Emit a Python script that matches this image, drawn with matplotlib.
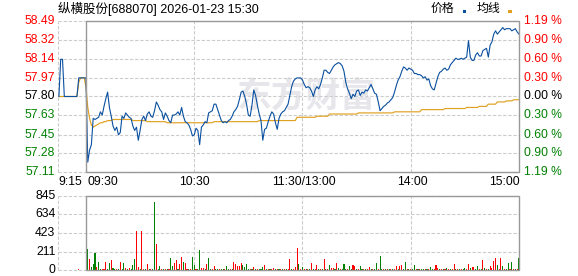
import numpy as np
import matplotlib
matplotlib.use("Agg")
import matplotlib.pyplot as plt
from matplotlib.patches import Rectangle

plt.rcParams['font.family'] = ['Liberation Sans', 'Noto Sans CJK SC', 'DejaVu Sans']

# 标题 / 昨收
title = "纵横股份[688070] 2026-01-23 15:30"
prev_close = 57.80

# 集合竞价 9:15-9:29
pre_price = [57.80, 58.14, 58.14, 57.80, 57.80, 57.80, 57.80, 57.80, 57.80, 57.80,
             57.80, 57.97, 57.97, 57.97, 57.97]
pre_avg = [57.80, 57.80, 57.80, 57.80, 57.80, 57.80, 57.80, 57.80, 57.80, 57.80,
           57.80, 57.93, 57.97, 57.97, 57.97]
pre_vol = [0, 0, 0, 0, 0, 0, 0, 0, 0, 0, 0, 12, 0, 0, 0]
pre_dir = "rrrrrrrrrrrrrrr"

# 分时价格 09:30-15:00 (每分钟)
price = [
    57.97, 57.20, 57.31, 57.36, 57.60, 57.59, 57.60, 57.61, 57.66, 57.63,
    57.71, 57.78, 57.84, 57.70, 57.62, 57.53, 57.49, 57.52, 57.45, 57.47,
    57.62, 57.60, 57.65, 57.63, 57.61, 57.60, 57.53, 57.49, 57.52, 57.40,
    57.49, 57.59, 57.62, 57.58, 57.64, 57.66, 57.62, 57.61, 57.67, 57.75,
    57.72, 57.68, 57.66, 57.59, 57.65, 57.62, 57.58, 57.56, 57.63, 57.63,
    57.64, 57.66, 57.63, 57.70, 57.62, 57.57, 57.56, 57.54, 57.50, 57.44,
    57.45, 57.51, 57.49, 57.36, 57.52, 57.54, 57.57, 57.56, 57.65, 57.66,
    57.67, 57.73, 57.73, 57.68, 57.63, 57.58, 57.56, 57.57, 57.56, 57.58,
    57.59, 57.62, 57.66, 57.68, 57.71, 57.77, 57.84, 57.85, 57.80, 57.73,
    57.63, 57.62, 57.72, 57.86, 57.81, 57.72, 57.64, 57.58, 57.40, 57.50,
    57.51, 57.57, 57.62, 57.66, 57.64, 57.56, 57.50, 57.60, 57.64, 57.66,
    57.67, 57.70, 57.73, 57.81, 57.89, 57.94, 57.96, 57.97, 57.97, 57.97,
    57.95, 57.91, 57.88, 57.89, 57.88, 57.85, 57.80, 57.86, 57.89, 57.87,
    57.91, 57.97, 58.04, 58.04, 58.02, 58.01, 58.04, 58.07, 58.09, 58.10,
    58.11, 58.10, 58.08, 58.03, 57.93, 57.87, 57.83, 57.78, 57.82, 57.80,
    57.85, 57.86, 57.81, 57.84, 57.83, 57.86, 57.85, 57.88, 57.91, 57.87,
    57.83, 57.82, 57.75, 57.67, 57.69, 57.71, 57.72, 57.74, 57.75, 57.77,
    57.79, 57.84, 57.90, 57.95, 57.98, 58.03, 58.07, 58.06, 58.04, 58.06,
    58.05, 58.04, 58.01, 58.01, 58.00, 58.00, 57.99, 57.97, 57.98, 57.95,
    57.96, 57.90, 57.87, 57.86, 57.92, 57.98, 58.02, 58.03, 58.05, 58.06,
    58.04, 58.05, 58.09, 58.11, 58.13, 58.15, 58.14, 58.14, 58.15, 58.14,
    58.15, 58.16, 58.31, 58.16, 58.13, 58.13, 58.18, 58.20, 58.17, 58.17,
    58.22, 58.23, 58.24, 58.16, 58.27, 58.30, 58.37, 58.40, 58.37, 58.39,
    58.41, 58.43, 58.41, 58.42, 58.42, 58.42, 58.40, 58.41, 58.42, 58.39,
    58.37,
]

# 均价线
avg = [
    57.89, 57.70, 57.60, 57.54, 57.52, 57.53, 57.54, 57.55, 57.56, 57.56,
    57.57, 57.57, 57.58, 57.58, 57.58, 57.59, 57.59, 57.59, 57.59, 57.59,
    57.59, 57.59, 57.59, 57.59, 57.59, 57.59, 57.58, 57.58, 57.58, 57.58,
    57.58, 57.58, 57.58, 57.58, 57.57, 57.57, 57.57, 57.57, 57.57, 57.57,
    57.57, 57.57, 57.57, 57.57, 57.57, 57.56, 57.56, 57.56, 57.56, 57.56,
    57.56, 57.56, 57.56, 57.56, 57.56, 57.56, 57.56, 57.56, 57.56, 57.56,
    57.56, 57.56, 57.56, 57.56, 57.56, 57.56, 57.56, 57.56, 57.56, 57.56,
    57.56, 57.57, 57.57, 57.57, 57.57, 57.57, 57.57, 57.57, 57.57, 57.57,
    57.57, 57.57, 57.57, 57.57, 57.57, 57.57, 57.57, 57.57, 57.57, 57.57,
    57.57, 57.57, 57.57, 57.57, 57.57, 57.57, 57.58, 57.58, 57.58, 57.58,
    57.58, 57.58, 57.58, 57.58, 57.58, 57.58, 57.58, 57.58, 57.58, 57.58,
    57.58, 57.58, 57.58, 57.58, 57.58, 57.58, 57.58, 57.61, 57.61, 57.61,
    57.61, 57.61, 57.61, 57.61, 57.61, 57.61, 57.61, 57.61, 57.62, 57.62,
    57.62, 57.62, 57.62, 57.62, 57.62, 57.64, 57.64, 57.64, 57.64, 57.64,
    57.64, 57.64, 57.64, 57.64, 57.64, 57.64, 57.64, 57.64, 57.64, 57.64,
    57.64, 57.65, 57.65, 57.65, 57.65, 57.65, 57.65, 57.65, 57.65, 57.65,
    57.65, 57.65, 57.65, 57.65, 57.65, 57.65, 57.65, 57.65, 57.65, 57.65,
    57.65, 57.66, 57.66, 57.66, 57.66, 57.66, 57.66, 57.66, 57.66, 57.66,
    57.66, 57.66, 57.66, 57.66, 57.66, 57.66, 57.68, 57.68, 57.68, 57.68,
    57.68, 57.68, 57.68, 57.68, 57.68, 57.68, 57.68, 57.68, 57.68, 57.69,
    57.69, 57.69, 57.69, 57.69, 57.69, 57.69, 57.69, 57.69, 57.69, 57.69,
    57.69, 57.70, 57.70, 57.70, 57.70, 57.70, 57.70, 57.70, 57.71, 57.71,
    57.71, 57.71, 57.71, 57.73, 57.73, 57.73, 57.73, 57.73, 57.75, 57.75,
    57.75, 57.75, 57.75, 57.76, 57.76, 57.76, 57.76, 57.77, 57.77, 57.77,
    57.77,
]

# 成交量 (手)
volume = [
    0, 236, 126, 30, 68, 190, 30, 91, 10, 10,
    10, 91, 10, 76, 114, 23, 10, 10, 10, 91,
    10, 76, 23, 10, 19, 10, 57, 126, 445, 30,
    10, 445, 10, 10, 68, 10, 10, 10, 776, 297,
    10, 42, 10, 10, 10, 10, 10, 137, 46, 76,
    114, 10, 68, 148, 91, 80, 10, 10, 10, 148,
    57, 10, 10, 228, 23, 23, 10, 68, 137, 10,
    10, 46, 10, 10, 10, 10, 10, 10, 46, 10,
    10, 10, 91, 68, 46, 46, 80, 57, 38, 68,
    10, 10, 10, 34, 10, 10, 10, 10, 34, 57,
    10, 10, 10, 10, 23, 10, 10, 10, 10, 10,
    10, 10, 10, 126, 10, 10, 38, 251, 68, 10,
    34, 10, 10, 10, 10, 80, 10, 10, 57, 10,
    10, 10, 126, 10, 10, 57, 23, 23, 10, 80,
    23, 10, 10, 68, 10, 10, 46, 10, 57, 46,
    10, 10, 46, 10, 10, 10, 10, 34, 10, 10,
    10, 80, 10, 160, 10, 10, 10, 10, 10, 10,
    10, 10, 46, 10, 46, 57, 10, 91, 10, 10,
    10, 10, 57, 10, 10, 10, 10, 10, 10, 10,
    10, 34, 10, 10, 57, 23, 10, 10, 10, 10,
    23, 10, 10, 10, 68, 10, 10, 10, 10, 10,
    23, 10, 68, 23, 34, 34, 10, 46, 10, 10,
    114, 23, 10, 10, 46, 23, 103, 137, 57, 10,
    137, 46, 10, 10, 80, 10, 91, 10, 10, 10,
    137,
]
# r = 上涨(红) g = 下跌(绿)
direction = ("rgrgggrggr" "rrggrggrgr" "ggrgrgggrr" "grrgrgrggr" "ggrgrgrggr"
             "rgrrgrrgrg" "grggrrgrgg" "rrggrggrgg" "rgrrrrrggg" "grgrgrgggr"
             "grgrrgrgrg" "rgrrgrrrgr" "grgrgrgrrg" "rgrgrgrrgr" "grgggrggrr"
             "grggrgrrgr" "ggrggrgrgr" "grrgrrggrg" "rggrgrggrg" "rggrrrgrgr"
             "grgrrgrgrg" "grrgrrggrg" "rgrgrrrrgr" "rgrggrgrgr" "g")

price_ticks = [58.49, 58.32, 58.14, 57.97, 57.80, 57.63, 57.45, 57.28, 57.11]
pct_labels = ["1.19 %", "0.90 %", "0.60 %", "0.30 %", "0.00 %",
              "0.30 %", "0.60 %", "0.90 %", "1.19 %"]
vol_ticks = [845, 634, 423, 211, 0]
time_labels = ["9:15", "09:30", "10:30", "11:30/13:00", "14:00", "15:00"]
time_ticks = [-15.5, 0, 60, 120, 180, 240]   # 距 09:30 的分钟数

BLUE = '#0a50a0'
ORANGE = '#e0a020'
RED = '#ff0000'
GREEN = '#008000'
GRID = '#cccccc'
FRAME = '#999999'

W, H = 578, 276
fig = plt.figure(figsize=(W / 100, H / 100), dpi=100)
fig.patch.set_facecolor('white')

x0, x1 = 58, 519
ax = fig.add_axes([x0 / W, 1 - 172 / H, (x1 - x0) / W, 151 / H])
vax = fig.add_axes([x0 / W, 1 - 270 / H, (x1 - x0) / W, 74 / H])

pre_t = np.arange(-len(pre_price), 0)
t = np.arange(len(price))
all_t = np.concatenate([pre_t, t])
xmin = -15.5


def lab_color(v):
    if abs(v - prev_close) < 1e-6:
        return 'black'
    return RED if v > prev_close else GREEN


def grid_and_frame(a, ylo, yhi, hticks):
    a.set_xlim(xmin, 240)
    a.set_ylim(ylo, yhi)
    a.axis('off')
    a.hlines(hticks, xmin, 240, colors=GRID, linewidth=0.8,
             linestyles=(0, (3, 1.6)), zorder=1, clip_on=False)
    a.vlines([xmin, 60, 120, 180], ylo, yhi, colors=GRID, linewidth=0.8,
             linestyles=(0, (3, 1.6)), zorder=1, clip_on=False)
    a.add_patch(Rectangle((0, ylo), 240, yhi - ylo, fill=False, ec=FRAME,
                          lw=1.0, zorder=6, clip_on=False))


# 价格图
grid_and_frame(ax, price_ticks[-1], price_ticks[0], price_ticks)
ax.text(122, 57.80, "东方财富", family=['Noto Sans CJK SC'], fontsize=25,
        fontweight='bold', color='#e6e6eb', ha='center', va='center', zorder=0.5)
ax.plot(all_t, pre_avg + avg, color=ORANGE, lw=0.85, zorder=3)
ax.plot(all_t, pre_price + price, color=BLUE, lw=0.8, zorder=4)

ytr = ax.get_yaxis_transform()
for v, p in zip(price_ticks, pct_labels):
    c = lab_color(v)
    ax.text(-0.0058, v, f"{v:.2f}", transform=ytr, ha='right', va='center',
            fontsize=8.7, color=c)
    ax.text(1.0105, v, p, transform=ytr, ha='left', va='center',
            fontsize=8.7, color=c)

xtr = ax.get_xaxis_transform()
aligns = ['left', 'left', 'center', 'center', 'center', 'right']
shift = [0, 0.6, 0, 0.6, 0.8, 0.6]
for lab, tt, al, s in zip(time_labels, time_ticks, aligns, shift):
    ax.text(tt + s, -0.066, lab, transform=xtr, ha=al, va='center',
            fontsize=8.7, color='black')

# 成交量图
grid_and_frame(vax, 0, vol_ticks[0], vol_ticks)
cols = [RED if d == 'r' else GREEN for d in pre_dir + direction]
vax.bar(all_t, pre_vol + volume, width=0.6, color=cols, zorder=3)
vtr = vax.get_yaxis_transform()
for v in vol_ticks:
    vax.text(-0.0058, v, str(v), transform=vtr, ha='right', va='center',
             fontsize=8.7, color='black')

# 标题和图例
fig.text(x0 / W, 1 - 8.5 / H, title, fontsize=9, va='center', color='black')
fig.text(431 / W, 1 - 9 / H, "价格", fontsize=8.6, va='center', color='black')
fig.text(476.5 / W, 1 - 9 / H, "均线", fontsize=8.6, va='center', color='black')
for px, c in [(462.5, BLUE), (508, ORANGE)]:
    fig.patches.append(Rectangle((px / W, 1 - 12.5 / H), 3.5 / W, 2.5 / H,
                                 transform=fig.transFigure, figure=fig,
                                 color=c, lw=0))

fig.savefig('out.png', dpi=100)
